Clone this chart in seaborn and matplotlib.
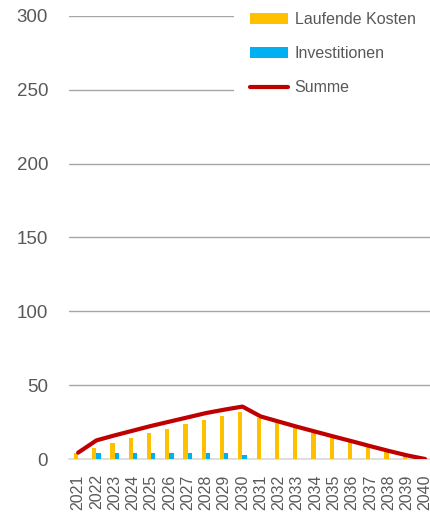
import numpy as np
import pandas as pd
import matplotlib
matplotlib.use("Agg")
import matplotlib.pyplot as plt
import seaborn as sns

# Daten
jahre = [str(j) for j in range(2021, 2041)]
laufende_kosten = [4.3, 7.6, 11.0, 14.4, 17.8, 20.5, 23.4, 26.4, 29.0, 31.8,
                   27.7, 24.3, 20.7, 17.6, 14.2, 11.2, 7.8, 4.9, 2.2, 0.0]
investitionen = [0.0, 4.3, 4.3, 4.3, 4.3, 4.3, 4.3, 4.3, 4.3, 2.7,
                 0, 0, 0, 0, 0, 0, 0, 0, 0, 0]
summe = [4.3, 12.6, 16.0, 19.2, 22.4, 25.3, 28.2, 31.1, 33.4, 35.5,
         28.8, 25.3, 21.8, 18.5, 15.2, 12.0, 8.7, 5.5, 2.5, 0.0]

sns.set_theme(style="white")
plt.rcParams["font.family"] = ["Liberation Sans", "DejaVu Sans"]
grau = "#595959"

df = pd.DataFrame({
    "Jahr": jahre * 2,
    "Wert": laufende_kosten + investitionen,
    "Art": ["Laufende Kosten"] * 20 + ["Investitionen"] * 20,
})

fig = plt.figure(figsize=(4.3, 5.12), dpi=100)
ax = fig.add_axes([69 / 430, 53 / 512, 1 - 69 / 430, (459 - 16) / 512])

sns.barplot(data=df, x="Jahr", y="Wert", hue="Art", order=jahre,
            palette={"Laufende Kosten": "#FFC000", "Investitionen": "#00B0F0"},
            saturation=1, width=0.46, gap=0, dodge=True, linewidth=0,
            ax=ax, zorder=3)
sns.lineplot(x=np.arange(len(jahre)), y=summe, color="#C00000", linewidth=3,
             label="Summe", ax=ax, zorder=4, solid_capstyle="round")

ax.set_ylim(0, 300)
ax.set_xlim(-0.5, 19.27)
ax.set_yticks(range(0, 301, 50))
ax.yaxis.grid(True, color="#a6a6a6", linewidth=1)
ax.set_axisbelow(True)
for s in ["top", "right", "left"]:
    ax.spines[s].set_visible(False)
ax.spines["bottom"].set_color("#d9d9d9")
ax.spines["bottom"].set_linewidth(1.2)
ax.set_xlabel("")
ax.set_ylabel("")
ax.tick_params(axis="y", labelsize=13.5, colors=grau, length=0, pad=15)
ax.tick_params(axis="x", labelsize=11.5, colors=grau, length=0, rotation=90, pad=11)

handles, labels = ax.get_legend_handles_labels()
leg = ax.legend(handles, labels, loc="upper left",
                bbox_to_anchor=(226 / 430, 1 + 12 / 512), bbox_transform=fig.transFigure,
                frameon=True, fontsize=11.5, handlelength=2.4, handleheight=0.65,
                labelspacing=1.2, borderpad=1.0, handletextpad=0.4,
                fancybox=False)
leg.get_frame().set_facecolor("white")
leg.get_frame().set_edgecolor("none")
leg.get_frame().set_alpha(1)
leg.set_zorder(10)
for t in leg.get_texts():
    t.set_color(grau)

fig.savefig("out.png", dpi=100)
